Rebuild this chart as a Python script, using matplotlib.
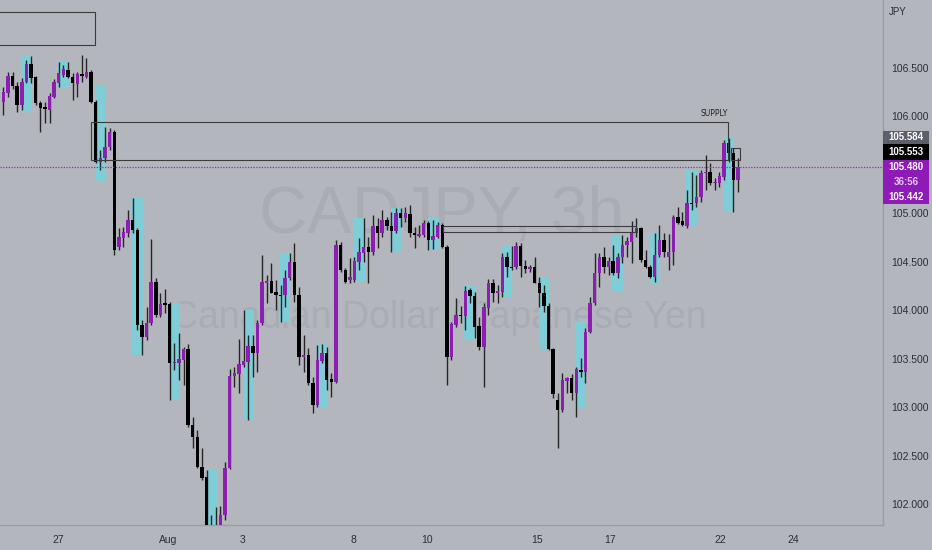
import matplotlib
matplotlib.use('Agg')
import matplotlib.pyplot as plt
from matplotlib.patches import Rectangle
import numpy as np

# CADJPY 3h candles (open, high, low, close)
opens = [105.757, 106.152, 106.239, 106.418, 106.315, 106.118, 106.359, 106.542, 106.404, 106.136,
         106.095, 106.067, 106.204, 106.349, 106.428, 106.480, 106.410, 106.335, 106.438, 106.410,
         106.462, 106.152, 105.533, 105.568, 105.688, 105.843, 104.656, 104.743, 104.801, 104.932,
         104.828, 103.848, 103.727, 103.866, 104.295, 103.951, 104.072, 104.065, 103.453, 103.453,
         103.487, 103.600, 102.816, 102.695, 102.386, 102.279, 101.681, 101.629, 101.609, 101.887,
         102.369, 103.322, 103.342, 103.435, 103.469, 103.631, 103.562, 103.866, 104.285, 104.302,
         104.192, 104.158, 104.158, 104.330, 104.501, 104.158, 103.521, 103.538, 103.246, 103.022,
         103.480, 103.562, 103.288, 103.263, 104.674, 104.416, 104.312, 104.312, 104.501, 104.594,
         104.656, 104.605, 104.870, 104.794, 104.932, 104.870, 104.821, 105.001, 104.949, 104.994,
         104.801, 104.766, 104.777, 104.904, 104.725, 104.759, 104.880, 104.656, 103.515, 103.848,
         103.951, 103.941, 104.209, 104.147, 103.838, 103.624, 104.020, 104.285, 104.181, 104.192,
         104.553, 104.450, 104.443, 104.663, 104.457, 104.423, 104.450, 104.285, 104.181, 104.044,
         103.597, 103.074, 102.971, 103.273, 103.298, 103.143, 103.384, 103.366, 103.779, 104.072,
         104.381, 104.547, 104.450, 104.512, 104.381, 104.547, 104.674, 104.708, 104.801, 104.852,
         104.519, 104.443, 104.340, 104.570, 104.725, 104.553, 104.605, 104.959, 104.924, 104.870,
         105.110, 105.104, 105.172, 105.414, 105.430, 105.310, 105.310, 105.378, 105.723, 105.620,
         105.344]
highs = [106.118, 106.307, 106.462, 106.462, 106.359, 106.394, 106.583, 106.624, 106.418, 106.163,
         106.152, 106.239, 106.384, 106.565, 106.531, 106.565, 106.446, 106.462, 106.634, 106.600,
         106.480, 106.170, 105.654, 105.894, 105.878, 105.860, 104.846, 104.862, 105.035, 105.156,
         104.849, 103.900, 104.037, 104.732, 104.330, 104.175, 104.216, 104.088, 103.665, 103.762,
         103.624, 103.652, 102.902, 102.764, 102.579, 102.352, 101.887, 101.973, 101.980, 102.437,
         103.391, 103.418, 103.700, 104.003, 103.745, 103.745, 103.900, 104.570, 104.364, 104.485,
         104.312, 104.261, 104.416, 104.588, 104.691, 104.243, 103.745, 103.608, 103.314, 103.642,
         103.652, 103.624, 103.350, 104.725, 104.708, 104.433, 104.536, 104.553, 104.743, 104.949,
         104.759, 104.983, 104.949, 105.035, 104.966, 105.017, 105.052, 105.052, 105.069, 105.086,
         104.856, 104.880, 104.932, 104.924, 104.932, 104.914, 104.898, 104.674, 103.882, 104.124,
         104.044, 104.250, 104.227, 104.192, 103.934, 104.072, 104.320, 104.320, 104.261, 104.588,
         104.605, 104.663, 104.708, 104.697, 104.519, 104.467, 104.547, 104.346, 104.261, 104.072,
         103.608, 103.143, 103.350, 103.314, 103.342, 103.418, 103.504, 103.814, 104.140, 104.588,
         104.594, 104.650, 104.553, 104.674, 104.588, 104.777, 104.753, 104.924, 104.949, 104.862,
         104.622, 104.467, 104.794, 104.880, 104.801, 104.787, 104.983, 105.069, 105.017, 105.241,
         105.430, 105.396, 105.448, 105.602, 105.517, 105.362, 105.430, 105.757, 105.775, 105.672,
         105.568]
lows = [105.706, 106.015, 106.204, 106.280, 106.049, 106.067, 106.342, 106.342, 106.118, 105.843,
        105.930, 105.930, 106.188, 106.307, 106.410, 106.394, 106.170, 106.204, 106.359, 106.394,
        106.136, 105.517, 105.448, 105.533, 105.654, 104.570, 104.622, 104.656, 104.759, 104.794,
        103.796, 103.538, 103.693, 103.848, 103.934, 103.934, 103.969, 103.074, 103.384, 103.280,
        103.229, 102.798, 102.576, 102.369, 102.248, 101.578, 101.526, 101.547, 101.547, 101.836,
        102.359, 103.211, 103.143, 103.418, 102.868, 103.314, 103.366, 103.848, 104.072, 104.175,
        104.003, 103.882, 104.037, 104.312, 104.088, 103.435, 103.366, 103.229, 102.937, 103.005,
        103.453, 103.177, 103.108, 103.253, 104.398, 104.278, 104.285, 104.295, 104.416, 104.501,
        104.278, 104.570, 104.640, 104.759, 104.828, 104.605, 104.794, 104.862, 104.914, 104.759,
        104.640, 104.759, 104.759, 104.622, 104.629, 104.743, 104.640, 103.229, 103.487, 103.830,
        103.866, 103.796, 104.072, 103.711, 103.590, 103.211, 103.951, 104.088, 104.072, 104.140,
        104.346, 104.416, 104.423, 104.340, 104.381, 104.398, 104.278, 104.031, 103.985, 103.590,
        103.092, 102.576, 102.953, 103.143, 103.074, 102.902, 103.314, 103.246, 103.762, 104.054,
        104.243, 104.381, 104.364, 104.364, 104.330, 104.485, 104.553, 104.485, 104.753, 104.501,
        104.433, 104.330, 104.295, 104.553, 104.553, 104.416, 104.467, 104.890, 104.870, 104.849,
        105.035, 105.069, 105.120, 105.241, 105.293, 105.241, 105.269, 105.344, 105.533, 105.017,
        105.224]
closes = [106.067, 106.256, 106.418, 106.315, 106.118, 106.359, 106.542, 106.394, 106.136, 106.084,
          106.074, 106.211, 106.356, 106.446, 106.487, 106.410, 106.342, 106.438, 106.418, 106.462,
          106.152, 105.533, 105.568, 105.688, 105.843, 104.622, 104.759, 104.811, 104.932, 104.828,
          103.848, 103.724, 103.866, 104.295, 103.951, 104.065, 104.054, 103.453, 103.469, 103.494,
          103.600, 102.816, 102.695, 102.386, 102.269, 101.681, 101.609, 101.578, 101.887, 102.369,
          103.322, 103.350, 103.446, 103.480, 103.631, 103.562, 103.872, 104.295, 104.302, 104.181,
          104.158, 104.147, 104.330, 104.501, 104.158, 103.521, 103.538, 103.246, 103.022, 103.487,
          103.562, 103.280, 103.263, 104.674, 104.416, 104.295, 104.340, 104.512, 104.605, 104.656,
          104.605, 104.870, 104.794, 104.932, 104.870, 104.821, 105.001, 104.949, 105.001, 104.794,
          104.777, 104.784, 104.904, 104.725, 104.766, 104.880, 104.656, 103.521, 103.858, 103.951,
          103.941, 104.202, 104.147, 103.830, 103.624, 104.031, 104.285, 104.175, 104.202, 104.553,
          104.443, 104.433, 104.663, 104.457, 104.423, 104.450, 104.285, 104.181, 104.044, 103.597,
          103.136, 102.971, 103.280, 103.298, 103.143, 103.391, 103.366, 103.779, 104.072, 104.381,
          104.547, 104.450, 104.512, 104.381, 104.553, 104.674, 104.718, 104.811, 104.852, 104.519,
          104.443, 104.340, 104.570, 104.725, 104.605, 104.605, 104.959, 104.904, 104.880, 105.110,
          105.094, 105.172, 105.420, 105.430, 105.310, 105.327, 105.386, 105.723, 105.620, 105.344,
          105.480]

# session boxes (start bar, high, low)
sess_start = [4.8, 12.8, 20.8, 28.8, 36.9, 45.0, 52.8, 60.8, 68.8, 76.9,
              84.9, 92.9, 100.8, 108.8, 116.9, 124.8, 132.7, 140.8, 148.7, 156.8]
sess_top = [106.624, 106.576, 106.315, 105.156, 104.078, 102.352, 104.003, 104.588, 103.652, 104.949,
            105.052, 104.949, 104.261, 104.674, 104.346, 103.888, 104.777, 104.794, 105.448, 105.775]
sess_bot = [106.060, 106.301, 105.321, 103.538, 103.074, 101.700, 102.868, 103.882, 102.991, 104.295,
            104.605, 104.622, 103.701, 104.124, 103.597, 102.987, 104.192, 104.278, 104.880, 105.017]

# drawn zones
supply_top, supply_bot = 105.943, 105.553
old_top, old_bot = 107.078, 106.738
mid_top, mid_bot = 104.873, 104.805

# price axis labels (105.500 sits under the price tags)
price_ticks = [102.0, 102.5, 103.0, 103.5, 104.0, 104.5, 105.0, 106.0, 106.5]

date_labels = ['27', 'Aug', '3', '8', '10', '15', '17', '22', '24']
date_pos = [12.83, 36.64, 52.87, 76.68, 92.70, 116.51, 132.31, 156.12, 171.92]

BG = '#b3b6bd'
PURPLE = '#8b1fb0'
TXT = '#2a2e39'

fig = plt.figure(figsize=(9.32, 5.5), dpi=100, facecolor=BG)
ax = fig.add_axes([0, 25 / 550, 883 / 932, 525 / 550], facecolor=BG)

x = np.arange(len(closes))
o = np.array(opens)
c = np.array(closes)
up = c >= o
cols = [PURPLE if u else '#000000' for u in up]

for s, t, b in zip(sess_start, sess_top, sess_bot):
    ax.add_patch(Rectangle((s, b), 2.35, t - b, facecolor='#7fcdd7', edgecolor='none', zorder=2))

ax.vlines(x, lows, highs, colors='#262626', linewidth=1, zorder=3)
body = np.maximum(np.abs(c - o), 0.012)
ax.bar(x, body, bottom=np.minimum(o, c), width=0.74, color=cols, linewidth=0, zorder=4)

# zones
ax.add_patch(Rectangle((-5, old_bot), 25.8, old_top - old_bot, fill=False, edgecolor='#3c3c3c', lw=0.8, zorder=5))
ax.add_patch(Rectangle((20.0, supply_bot), 137.8, supply_top - supply_bot, fill=False, edgecolor='#3c3c3c', lw=0.8, zorder=5))
ax.add_patch(Rectangle((158.5, supply_bot), 1.9, 0.12, fill=False, edgecolor='#3c3c3c', lw=0.8, zorder=5))
ax.add_patch(Rectangle((96.2, mid_bot), 41.7, mid_top - mid_bot, fill=False, edgecolor='#3c3c3c', lw=0.8, zorder=5))
ax.text(154.8, supply_top + 0.04, 'SUPPLY', fontsize=5.5, color='#222222', ha='center', va='bottom', zorder=6)

ax.axhline(closes[-1], color='#9c27b0', lw=0.9, ls=(0, (1, 1.2)), zorder=5)

# watermark
ax.text(0.5, 0.59, 'CADJPY, 3h', transform=ax.transAxes, fontsize=48, color='#a9acb3',
        ha='center', va='center', family='Liberation Sans', zorder=1)
ax.text(0.497, 0.395, 'Canadian Dollar / Japanese Yen', transform=ax.transAxes, fontsize=27,
        color='#a9acb3', ha='center', va='center', family='Liberation Sans', zorder=1)

ax.set_xlim(0.28, 191.4)
ax.set_ylim(101.784, 107.202)

ax.yaxis.tick_right()
ax.set_yticks(price_ticks)
ax.set_yticklabels(['%.3f' % t for t in price_ticks], family='Liberation Sans')
ax.set_xticks(date_pos)
ax.set_xticklabels(date_labels, family='Liberation Sans')
ax.tick_params(axis='y', length=0, pad=6, labelsize=7.5, colors=TXT)
ax.tick_params(axis='x', length=0, pad=7, labelsize=7.5, colors=TXT)

for side in ['top', 'left']:
    ax.spines[side].set_visible(False)
for side in ['right', 'bottom']:
    ax.spines[side].set_color('#9a9da5')
    ax.spines[side].set_linewidth(1)

# price tags on the axis
def tag(y0, y1, color):
    fig.add_artist(Rectangle((883 / 932, 1 - y1 / 550), 46 / 932, (y1 - y0) / 550,
                             transform=fig.transFigure, facecolor=color, edgecolor='none'))

def tag_text(ypx, s, color='white'):
    fig.text(906 / 932, 1 - ypx / 550, s, color=color, fontsize=7, ha='center', va='center',
             family='Liberation Sans', fontweight='bold')

tag(131, 144, '#5d606b')
tag(144, 160, '#000000')
tag(160, 204, '#8e1ab8')
tag_text(137.5, '105.584')
tag_text(152, '105.553')
tag_text(167.5, '%.3f' % closes[-1])
tag_text(182, '36:56', '#e4c8f0')
tag_text(196.5, '105.442')

fig.text(898 / 932, 1 - 12 / 550, 'JPY', fontsize=7, color=TXT, ha='center', va='center',
         family='Liberation Sans')

fig.savefig('out.png', dpi=100, facecolor=BG)
